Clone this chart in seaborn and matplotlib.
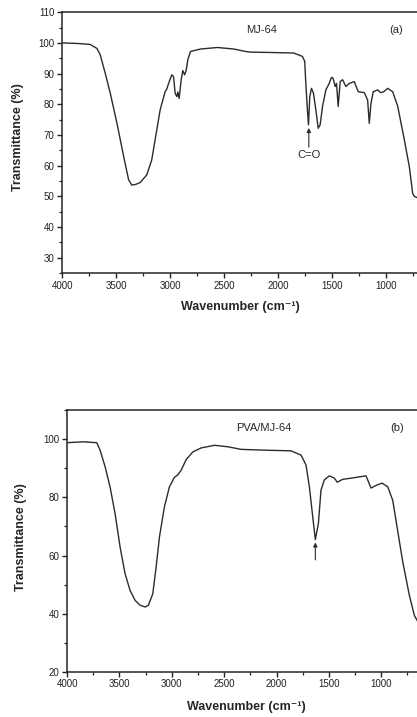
import numpy as np
import pandas as pd
import seaborn as sns
import matplotlib.pyplot as plt
from matplotlib.ticker import MultipleLocator

# FTIR spectra (wavenumber in cm-1, transmittance in %)
wn_a = [4000, 3850, 3740, 3678, 3647, 3600, 3554, 3492, 3430, 3384, 3355, 3320, 3278, 3216,
        3170, 3123, 3092, 3046, 3030, 3014, 2984, 2968, 2953, 2937, 2928, 2916, 2897, 2882,
        2866, 2851, 2836, 2811, 2718, 2563, 2408, 2300, 2254, 2099, 1854, 1774, 1753, 1743,
        1728, 1718, 1706, 1690, 1672, 1650, 1628, 1610, 1588, 1557, 1526, 1505, 1490, 1471,
        1458, 1443, 1424, 1402, 1371, 1340, 1294, 1257, 1201, 1170, 1155, 1139, 1118, 1077,
        1050, 1021, 984, 938, 891, 830, 784, 753, 737, 705]
t_a = [100.0, 99.8, 99.5, 98.2, 96.1, 90.0, 83.6, 73.8, 63.0, 55.4, 53.7, 53.9, 54.5, 57.0,
       61.9, 71.7, 78.2, 84.1, 85.0, 86.8, 89.6, 89.0, 83.6, 82.5, 84.0, 81.9, 88.0, 91.0,
       89.6, 91.0, 94.5, 97.2, 98.0, 98.5, 98.0, 97.2, 97.0, 96.9, 96.7, 95.6, 94.0, 87.0,
       78.3, 73.3, 82.5, 85.2, 83.6, 78.3, 72.2, 73.3, 79.3, 84.7, 86.8, 88.8, 88.5, 85.8,
       86.8, 79.3, 87.4, 88.0, 85.8, 86.8, 87.4, 84.1, 83.8, 81.4, 73.8, 80.3, 84.1, 84.7,
       83.8, 84.1, 85.2, 84.1, 79.3, 68.4, 59.7, 51.0, 50.0, 49.5]

wn_b = [4000, 3845, 3717, 3685, 3637, 3590, 3542, 3494, 3447, 3399, 3351, 3303, 3255, 3224,
        3182, 3150, 3118, 3071, 3023, 2975, 2944, 2911, 2863, 2800, 2720, 2593, 2465, 2338,
        2083, 1861, 1765, 1718, 1686, 1654, 1629, 1600, 1575, 1543, 1495, 1447, 1420, 1368,
        1288, 1145, 1129, 1097, 1049, 992, 937, 890, 842, 794, 731, 683, 648]
t_b = [98.8, 99.1, 98.8, 96.2, 90.5, 83.6, 74.4, 62.9, 53.8, 48.0, 44.6, 42.9, 42.3, 42.9,
       46.8, 56.0, 66.4, 76.7, 83.6, 86.9, 87.7, 89.3, 93.0, 95.6, 97.0, 97.9, 97.4, 96.5,
       96.2, 96.0, 94.5, 91.1, 83.6, 73.3, 65.5, 71.0, 82.5, 86.0, 87.4, 86.6, 85.2, 86.2,
       86.6, 87.4, 86.0, 83.2, 84.1, 84.9, 83.6, 79.0, 68.4, 57.8, 46.3, 39.4, 37.1]

df_a = pd.DataFrame({"wavenumber": wn_a, "T": t_a})
df_b = pd.DataFrame({"wavenumber": wn_b, "T": t_b})

sns.set_style("ticks")
plt.rcParams["font.family"] = ["Liberation Sans", "DejaVu Sans"]
plt.rcParams.update({"axes.linewidth": 1.1, "xtick.major.width": 1.0, "ytick.major.width": 1.0,
                     "xtick.minor.width": 0.9, "ytick.minor.width": 0.9,
                     "xtick.major.size": 3.5, "ytick.major.size": 3.5,
                     "xtick.minor.size": 2.0, "ytick.minor.size": 2.0,
                     "xtick.labelsize": 7, "ytick.labelsize": 7})

fig = plt.figure(figsize=(4.17, 7.17), dpi=100)
ax_a = fig.add_axes([0.149, 0.619, 0.853, 0.364])
ax_b = fig.add_axes([0.161, 0.063, 0.841, 0.365])

line_kw = dict(color="#2b2b2b", linewidth=1.0, sort=False, estimator=None)
sns.lineplot(data=df_a, x="wavenumber", y="T", ax=ax_a, **line_kw)
sns.lineplot(data=df_b, x="wavenumber", y="T", ax=ax_b, **line_kw)

panels = [(ax_a, (4000, 705), (25, 110), 10, 5, "MJ-64", "(a)"),
          (ax_b, (4000, 650), (20, 110), 20, 10, "PVA/MJ-64", "(b)")]
for ax, xl, yl, ymaj, ymin, name, tag in panels:
    ax.set_xlim(*xl)
    ax.set_ylim(*yl)
    ax.xaxis.set_major_locator(MultipleLocator(500))
    ax.xaxis.set_minor_locator(MultipleLocator(250))
    ax.yaxis.set_major_locator(MultipleLocator(ymaj))
    ax.yaxis.set_minor_locator(MultipleLocator(ymin))
    ax.spines["right"].set_visible(False)
    ax.tick_params(axis="both", which="both", direction="out", colors="#222222", pad=2)
    ax.set_xlabel("Wavenumber (cm\u207b\u00b9)", fontsize=9, fontweight="bold")
    ax.set_ylabel("Transmittance (%)", fontsize=9, fontweight="bold")
    ax.text(0.56, 0.93, name, transform=ax.transAxes, ha="center", va="center", fontsize=8)
    ax.text(0.94, 0.93, tag, transform=ax.transAxes, ha="center", va="center", fontsize=8)

ax_a.xaxis.set_label_coords(0.50, -0.108)
ax_a.yaxis.set_label_coords(-0.108, 0.52)
ax_b.xaxis.set_label_coords(0.51, -0.112)
ax_b.yaxis.set_label_coords(-0.115, 0.515)

# C=O band markers
arrow = dict(arrowstyle="-|>", color="#2b2b2b", lw=0.8, mutation_scale=6, shrinkA=0, shrinkB=0)
ax_a.annotate("C=O", xy=(1715, 72.3), xytext=(1715, 65), ha="center", va="top",
              fontsize=8, arrowprops=arrow)
ax_b.annotate("", xy=(1629, 64.5), xytext=(1629, 58.5), arrowprops=arrow)

plt.savefig("out.png", dpi=100)
